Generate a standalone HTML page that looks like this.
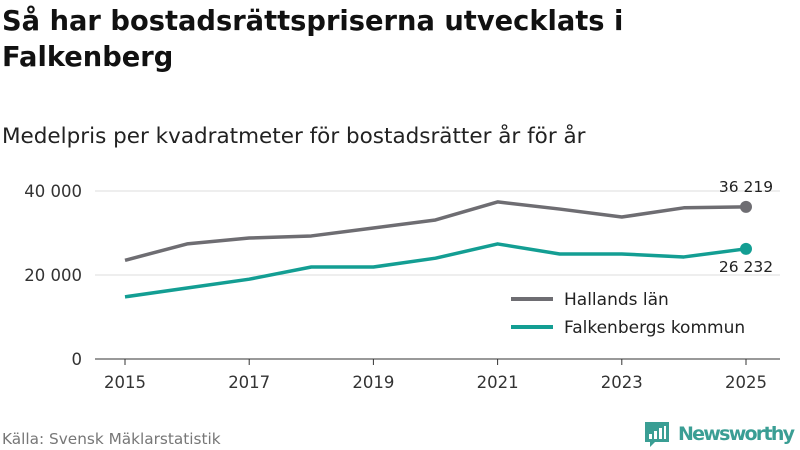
<!DOCTYPE html>
<html><head><meta charset="utf-8"><style>
body{margin:0;width:800px;height:450px;background:#fff;font-family:"DejaVu Sans","Liberation Sans",sans-serif;overflow:hidden;position:relative}
#title{position:absolute;left:2px;top:4px;font-size:27.3px;font-weight:bold;line-height:36px;color:#111}
#sub{position:absolute;left:2px;top:124px;font-size:21.5px;color:#222}
#src{position:absolute;left:2px;top:430px;font-size:15.3px;color:#777}
</style></head><body>
<div id="title">Så har bostadsrättspriserna utvecklats i<br>Falkenberg</div>
<div id="sub">Medelpris per kvadratmeter för bostadsrätter år för år</div>
<div id="src">Källa: Svensk Mäklarstatistik</div>
<svg id="chart" width="800" height="450" style="position:absolute;left:0;top:0"></svg>
<script>
const years=[2015,2016,2017,2018,2019,2020,2021,2022,2023,2024,2025];
const halland=[23500,27400,28800,29300,31200,33100,37400,35700,33800,36000,36219];
const falkenberg=[14800,16900,19000,21900,21900,24000,27400,25000,25000,24300,26232];
const yTicks=[0,20000,40000];
const xTicks=[2015,2017,2019,2021,2023,2025];
const NS="http://www.w3.org/2000/svg";
const svg=document.getElementById('chart');
const x=v=>125+(v-2015)*62.1;
const y=v=>359-v*0.0042;
const fmt=v=>v.toLocaleString('sv-SE').replace(/\s/g,' ');
function el(t,a,txt){const e=document.createElementNS(NS,t);for(const k in a)e.setAttribute(k,a[k]);if(txt!=null)e.textContent=txt;svg.appendChild(e);return e;}
yTicks.forEach(t=>{
 const g=el('line',{x1:95,x2:780,y1:y(t),y2:y(t),stroke:t===0?'#333':'#ddd','stroke-width':1});
 
 
 const l=el('text',{x:82,y:y(t)+6,'text-anchor':'end','font-size':16.5,fill:'#333'},fmt(t));
 
 
});
xTicks.forEach(t=>{
 const k=el('line',{x1:x(t),x2:x(t),y1:359,y2:365,stroke:'#333'});
 
 
 const l=el('text',{x:x(t),y:388,'text-anchor':'middle','font-size':16.5,fill:'#333'},t);
 
 
});
function series(vals,color,name){
 const p=el('polyline',{points:vals.map((v,i)=>x(years[i])+','+y(v)).join(' '),fill:'none',stroke:color,'stroke-width':3.5,'stroke-linejoin':'round'});
 
 
 const n=vals.length-1;
 const c=el('circle',{cx:x(years[n]),cy:y(vals[n]),r:6,fill:color});
 
 
}
series(halland,'#6e6d72','halland');
series(falkenberg,'#139e93','falkenberg');
const n=years.length-1;
let a=el('text',{x:x(years[n]),y:y(halland[n])-15,'text-anchor':'middle','font-size':15.5,fill:'#222'},fmt(halland[n]));


a=el('text',{x:x(years[n]),y:y(falkenberg[n])+23,'text-anchor':'middle','font-size':15.5,fill:'#222'},fmt(falkenberg[n]));


[['Hallands län','#6e6d72',299],['Falkenbergs kommun','#139e93',327]].forEach(([t,c,yy])=>{
 const l=el('line',{x1:511,x2:553,y1:yy,y2:yy,stroke:c,'stroke-width':4});
 
 
 const tx=el('text',{x:564,y:yy+6,'font-size':17,fill:'#222'},t);
 
 
});
const lg=el('g',{});


const r=document.createElementNS(NS,'path');
r.setAttribute('d','M645 422h24v20h-14l-5 5v-5h-5z');r.setAttribute('fill','#3a9e94');lg.appendChild(r);
[[649,434,3,5],[654,431,3,8],[659,428,3,11],[664,426,2,13]].forEach(b=>{const q=document.createElementNS(NS,'rect');q.setAttribute('x',b[0]);q.setAttribute('y',b[1]);q.setAttribute('width',b[2]);q.setAttribute('height',b[3]);q.setAttribute('fill','#fff');lg.appendChild(q);});
const lt=document.createElementNS(NS,'text');lt.setAttribute('x',678);lt.setAttribute('y',440);lt.setAttribute('font-size',19);lt.setAttribute('font-weight','bold');lt.setAttribute('textLength',117);lt.setAttribute('fill','#3a9e94');lt.textContent='Newsworthy';lg.appendChild(lt);
</script>
</body></html>
